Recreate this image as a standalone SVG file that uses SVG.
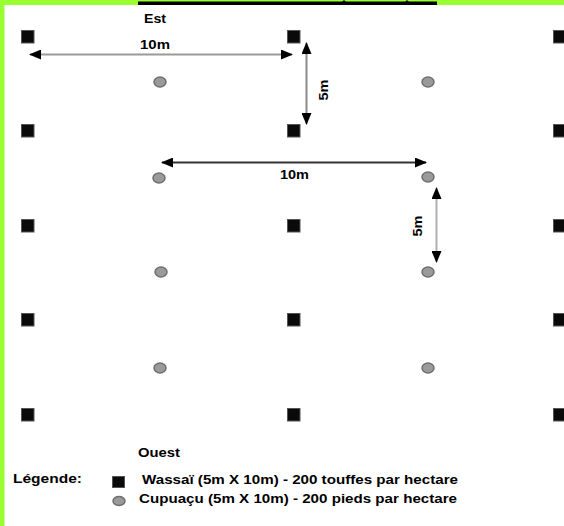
<svg xmlns="http://www.w3.org/2000/svg" width="564" height="526" viewBox="0 0 564 526">
  <style>
    .t { font-family: "Liberation Sans", Arial, sans-serif; font-weight: bold; font-size: 13px; fill: #000; }
    .sq { fill: #0a0a0a; stroke: #555; stroke-width: 1; }
    .ci { fill: #9a9a9a; stroke: #6e6e6e; stroke-width: 1.5; }
    .shaft { fill: none; stroke-width: 2; }
  </style>
  <defs>
    <marker id="ah" viewBox="0 0 12 10" refX="11" refY="5" markerWidth="12" markerHeight="10" markerUnits="userSpaceOnUse" orient="auto-start-reverse">
      <path d="M0,0 L12,5 L0,10 z" fill="#000"/>
    </marker>
  </defs>

  <rect x="0" y="0" width="564" height="526" fill="#fff"/>
  <!-- green frame -->
  <rect x="0" y="0" width="564" height="5" fill="#99ff33"/>
  <rect x="0" y="0" width="4.5" height="526" fill="#99ff33"/>
  <rect x="138" y="1.5" width="299" height="3.5" fill="#000"/>
  <path d="M342,2 L344,0 L346,2 z M405,2 L407,0 L409,2 z" fill="#000"/>

  <!-- Wassaï squares -->
  <g id="w-1-1"><rect class="sq" x="21.5" y="30.5" width="12.5" height="12.5"/></g>
  <g id="w-1-2"><rect class="sq" x="287.5" y="30.5" width="12.5" height="12.5"/></g>
  <g id="w-1-3"><rect class="sq" x="553.5" y="30.5" width="12.5" height="12.5"/></g>
  <g id="w-2-1"><rect class="sq" x="21.5" y="124.5" width="12.5" height="12.5"/></g>
  <g id="w-2-2"><rect class="sq" x="287.5" y="124.5" width="12.5" height="12.5"/></g>
  <g id="w-2-3"><rect class="sq" x="553.5" y="124.5" width="12.5" height="12.5"/></g>
  <g id="w-3-1"><rect class="sq" x="21.5" y="219.5" width="12.5" height="12.5"/></g>
  <g id="w-3-2"><rect class="sq" x="287.5" y="219.5" width="12.5" height="12.5"/></g>
  <g id="w-3-3"><rect class="sq" x="553.5" y="219.5" width="12.5" height="12.5"/></g>
  <g id="w-4-1"><rect class="sq" x="21.5" y="313.5" width="12.5" height="12.5"/></g>
  <g id="w-4-2"><rect class="sq" x="287.5" y="313.5" width="12.5" height="12.5"/></g>
  <g id="w-4-3"><rect class="sq" x="553.5" y="313.5" width="12.5" height="12.5"/></g>
  <g id="w-5-1"><rect class="sq" x="21.5" y="408.5" width="12.5" height="12.5"/></g>
  <g id="w-5-2"><rect class="sq" x="287.5" y="408.5" width="12.5" height="12.5"/></g>
  <g id="w-5-3"><rect class="sq" x="553.5" y="408.5" width="12.5" height="12.5"/></g>

  <!-- Cupuaçu circles -->
  <g id="c-1-1"><ellipse class="ci" cx="160" cy="82" rx="6" ry="5"/></g>
  <g id="c-1-2"><ellipse class="ci" cx="428" cy="82" rx="6" ry="5"/></g>
  <g id="c-2-1"><ellipse class="ci" cx="159" cy="178" rx="6" ry="5"/></g>
  <g id="c-2-2"><ellipse class="ci" cx="428" cy="177" rx="6" ry="5"/></g>
  <g id="c-3-1"><ellipse class="ci" cx="161" cy="272" rx="6" ry="5"/></g>
  <g id="c-3-2"><ellipse class="ci" cx="428" cy="272" rx="6" ry="5"/></g>
  <g id="c-4-1"><ellipse class="ci" cx="160" cy="368" rx="6" ry="5"/></g>
  <g id="c-4-2"><ellipse class="ci" cx="428" cy="368" rx="6" ry="5"/></g>

  <!-- connectors (dimension arrows) -->
  <g id="connectors">
    <line class="shaft" x1="30" y1="54.5" x2="292" y2="54.5" stroke="#9a9a9a" marker-start="url(#ah)" marker-end="url(#ah)"/>
    <line class="shaft" x1="306.5" y1="43" x2="306.5" y2="124" stroke="#8a8a8a" marker-start="url(#ah)" marker-end="url(#ah)"/>
    <line class="shaft" x1="162" y1="162.5" x2="426" y2="162.5" stroke="#333" marker-start="url(#ah)" marker-end="url(#ah)"/>
    <line class="shaft" x1="436.5" y1="188" x2="436.5" y2="262" stroke="#b0b0b0" marker-start="url(#ah)" marker-end="url(#ah)"/>
  </g>

  <!-- labels -->
  <g id="labels">
    <text class="t" x="144" y="23" textLength="22" lengthAdjust="spacingAndGlyphs">Est</text>
    <text class="t" x="140" y="49" textLength="30" lengthAdjust="spacingAndGlyphs">10m</text>
    <text class="t" x="327.5" y="90" text-anchor="middle" transform="rotate(-90 327.5 90)" textLength="21" lengthAdjust="spacingAndGlyphs">5m</text>
    <text class="t" x="280" y="179" textLength="29" lengthAdjust="spacingAndGlyphs">10m</text>
    <text class="t" x="422" y="226" text-anchor="middle" transform="rotate(-90 422 226)" textLength="21" lengthAdjust="spacingAndGlyphs">5m</text>
    <text class="t" x="138" y="457" textLength="42" lengthAdjust="spacingAndGlyphs">Ouest</text>
  </g>

  <!-- legend -->
  <g id="legend">
    <text class="t" x="13" y="483" textLength="69" lengthAdjust="spacingAndGlyphs">Légende:</text>
    <rect class="sq" x="112.5" y="476.5" width="12" height="11"/>
    <text class="t" x="142" y="484" textLength="316" lengthAdjust="spacingAndGlyphs">Wassaï (5m X 10m) - 200 touffes par hectare</text>
    <ellipse class="ci" cx="119" cy="501" rx="6" ry="4.5"/>
    <text class="t" x="139" y="503" textLength="318" lengthAdjust="spacingAndGlyphs">Cupuaçu (5m X 10m) - 200 pieds par hectare</text>
  </g>
</svg>
